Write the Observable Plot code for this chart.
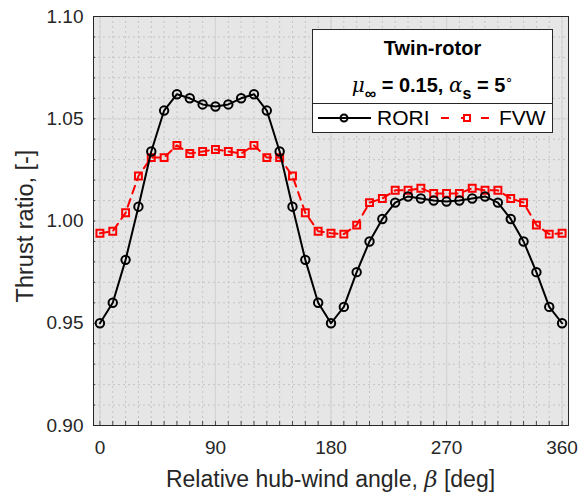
<!DOCTYPE html>
<html><head><meta charset="utf-8">
<script src="https://cdn.jsdelivr.net/npm/d3@7"></script>
<script src="https://cdn.jsdelivr.net/npm/@observablehq/plot@0.6"></script>
<style>
body{margin:0;background:#fff;}
#wrap{position:relative;width:587px;height:492px;font-family:"Liberation Sans",Arial,sans-serif;color:#000;}
#chart svg{display:block;}
#legend{position:absolute;left:312px;top:29px;width:241px;height:104px;background:#fff;border:1px solid #262626;box-sizing:border-box;}
#legend .top{height:74px;border-bottom:1px solid #262626;box-sizing:border-box;text-align:center;}
#legend .t1{font-weight:bold;font-size:20px;padding-top:7px;line-height:22px;}
#legend .t2{font-weight:bold;font-size:20px;line-height:24px;margin-top:8px;white-space:nowrap;}
#legend .t2 i{font-family:"DejaVu Serif",serif;font-weight:normal;font-style:italic;font-size:20px;}
#legend .t2 sub{font-size:16px;vertical-align:-7px;}
#legend .t2 sup{font-size:13px;vertical-align:9px;font-weight:normal;}
#legend .row{position:relative;height:29px;font-size:21px;}
#legend .row span{position:absolute;top:2px;line-height:24px;}
#legend .row svg{position:absolute;top:0;}
</style></head><body>
<div id="wrap">
<div id="chart"></div>
<div id="legend">
  <div class="top">
    <div class="t1">Twin-rotor</div>
    <div class="t2"><i>μ</i><sub>∞</sub> = 0.15, <i>α</i><sub>s</sub> = 5<sup>∘</sup></div>
  </div>
  <div class="row">
    <svg width="60" height="29" style="left:4px"><line x1="1" y1="14" x2="54" y2="14" stroke="#000" stroke-width="2"/><circle cx="27" cy="14" r="3.5" fill="none" stroke="#000" stroke-width="2"/></svg>
    <span style="left:64px">RORI</span>
    <svg width="60" height="29" style="left:127px"><line x1="1" y1="14" x2="54" y2="14" stroke="#ff0000" stroke-width="2" stroke-dasharray="8,12"/><rect x="24" y="11" width="6" height="6" fill="#fff" stroke="#ff0000" stroke-width="2"/></svg>
    <span style="left:186px">FVW</span>
  </div>
</div>
</div>
<script>
const angles = [0,10,20,30,40,50,60,70,80,90,100,110,120,130,140,150,160,170,180,190,200,210,220,230,240,250,260,270,280,290,300,310,320,330,340,350,360];
const rori = [0.950,0.960,0.981,1.007,1.034,1.054,1.062,1.060,1.057,1.056,1.057,1.060,1.062,1.054,1.034,1.007,0.981,0.960,0.950,0.958,0.975,0.990,1.001,1.009,1.012,1.011,1.010,1.0095,1.010,1.011,1.012,1.009,1.001,0.990,0.975,0.958,0.950];
const fvw = [0.994,0.995,1.004,1.022,1.031,1.031,1.037,1.033,1.034,1.035,1.034,1.033,1.037,1.031,1.031,1.022,1.004,0.995,0.994,0.9936,0.998,1.009,1.011,1.015,1.015,1.016,1.0135,1.0135,1.0135,1.016,1.015,1.015,1.011,1.009,0.998,0.9936,0.994];
const xTicks = [0,90,180,270,360];
const yTicks = [0.90,0.95,1.00,1.05,1.10];
const xMinor = d3.range(0, 361, 10);
const yMinor = d3.range(90, 111, 1).map(d => d / 100);
const xLabel = "Relative hub-wind angle, β [deg]";
const yLabel = "Thrust ratio, [-]";

const roriData = angles.map((a, i) => ({a, v: rori[i]}));
const fvwData = angles.map((a, i) => ({a, v: fvw[i]}));

const chart = Plot.plot({
  width: 587, height: 492,
  marginTop: 16, marginBottom: 67, marginLeft: 93, marginRight: 19,
  style: {fontFamily: "Liberation Sans, Arial, sans-serif", fontSize: "19px", color: "#262626", background: "transparent", overflow: "visible"},
  x: {domain: [-5, 365]},
  y: {domain: [0.9, 1.1]},
  marks: [
    Plot.frame({fill: "#e6e6e6", stroke: null}),
    Plot.gridX(xMinor, {stroke: "#c4c4c4", strokeOpacity: 1, strokeWidth: 1, strokeDasharray: "2,3"}),
    Plot.gridY(yMinor, {stroke: "#c4c4c4", strokeOpacity: 1, strokeWidth: 1, strokeDasharray: "2,3"}),
    Plot.gridX(xTicks, {stroke: "#d4d4d4", strokeOpacity: 1, strokeWidth: 1.2}),
    Plot.gridY(yTicks, {stroke: "#d4d4d4", strokeOpacity: 1, strokeWidth: 1.2}),
    Plot.frame({stroke: "#262626", strokeWidth: 1}),
    Plot.ruleX(xMinor, {x: d => d, y1: 0.9, y2: 0.902, stroke: "#262626", strokeWidth: 0.8}),
    Plot.ruleY(yMinor, {y: d => d, x1: -5, x2: -3.2, stroke: "#262626", strokeWidth: 0.8}),
    Plot.axisX(xTicks, {tickSize: 0, tickPadding: 15, fontSize: 19, color: "#262626",
      label: xLabel, labelAnchor: "center", labelArrow: false, labelOffset: 56}),
    Plot.axisY(yTicks, {tickSize: 0, tickPadding: 10, fontSize: 19, color: "#262626", tickFormat: d3.format(".2f"),
      label: yLabel, labelAnchor: "center", labelArrow: false, labelOffset: 80}),
    Plot.line(fvwData, {x: "a", y: "v", stroke: "#ff0000", strokeWidth: 2, strokeDasharray: "8,6"}),
    Plot.dot(fvwData, {x: "a", y: "v", symbol: "square", r: 3.9, stroke: "#ff0000", fill: "none", strokeWidth: 2}),
    Plot.line(roriData, {x: "a", y: "v", stroke: "#000", strokeWidth: 2}),
    Plot.dot(roriData, {x: "a", y: "v", symbol: "circle", r: 4.2, stroke: "#000", fill: "none", strokeWidth: 2})
  ]
});
document.getElementById("chart").appendChild(chart);

// style axis labels: larger font, italic beta, and place them like the reference
function placeLabel(node, fontSize, cx, cy) {
  node.style.fontSize = fontSize + "px";
  const svgBox = chart.getBoundingClientRect();
  const b = node.getBoundingClientRect();
  const dx = cx - (b.left - svgBox.left + b.width / 2);
  const dy = cy - (b.top - svgBox.top + b.height / 2);
  const g = document.createElementNS("http://www.w3.org/2000/svg", "g");
  g.setAttribute("transform", `translate(${dx},${dy})`);
  node.parentNode.insertBefore(g, node);
  g.appendChild(node);
}
d3.select(chart).selectAll("text").each(function() {
  const t = this.textContent;
  if (t === xLabel) {
    const s = d3.select(this);
    s.text(null);
    s.append("tspan").text("Relative hub-wind angle, ");
    s.append("tspan").attr("font-style", "italic").attr("font-family", "DejaVu Serif, serif").text("β");
    s.append("tspan").text(" [deg]");
    placeLabel(this, 23, 330.5, 478.5);
  } else if (t === yLabel) {
    placeLabel(this, 23.5, 25, 226);
  }
});
</script>
</body></html>
